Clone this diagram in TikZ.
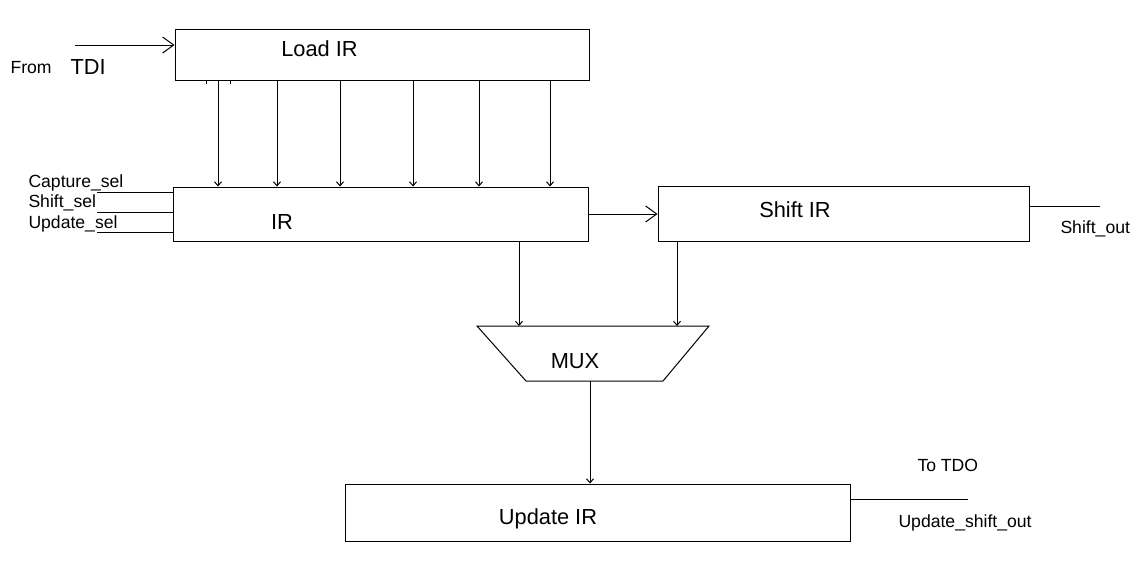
\documentclass[tikz,border=0pt]{standalone}
\usepackage{fontspec}
\setmainfont{Liberation Sans}
\usetikzlibrary{arrows.meta}
\begin{document}
\begin{tikzpicture}[x=1pt,y=-1pt,line width=1pt,
  box/.style={draw,line width=1pt,inner sep=0pt},
  big/.style={font=\fontsize{21.8}{24}\selectfont,inner sep=0pt},
  small/.style={font=\fontsize{17.6}{20}\selectfont,inner sep=0pt},
  arr/.style={-{Straight Barb[length=4pt,width=7pt]}},
  barr/.style={-{Straight Barb[length=11pt,width=16pt]}}]
\useasboundingbox (0,0) rectangle (1136,576);
% boxes
\node[box,minimum width=414pt,minimum height=51pt] (load) at (382,54.5) {};
\node[box,minimum width=415pt,minimum height=54pt] (ir) at (380.5,214) {};
\node[box,minimum width=371pt,minimum height=55pt] (sir) at (843.5,214) {};
\node[box,minimum width=505pt,minimum height=57pt] (uir) at (597.5,512.5) {};
% mux trapezoid
\coordinate (m1) at (477,326);
\coordinate (m2) at (709,326);
\coordinate (m3) at (663,381);
\coordinate (m4) at (526,381);
\draw (m1) -- (m2) -- (m3) -- (m4) -- cycle;
% labels
\node[big,anchor=base] (tload) at (319.5,56) {Load IR};
\node[big,anchor=base] (tir) at (282,229) {IR};
\node[big,anchor=base] (tsir) at (795,217) {Shift IR};
\node[big,anchor=base] (tmux) at (575,368) {MUX};
\node[big,anchor=base] (tuir) at (548,524) {Update IR};
\node[small,anchor=base west] (from) at (10,73) {From};
\node[big,anchor=base west] (tdi) at (70,74) {TDI};
\node[small,anchor=base west] (cap) at (28,187) {Capture\_sel};
\node[small,anchor=base west] (shs) at (28,207) {Shift\_sel};
\node[small,anchor=base west] (ups) at (28,228) {Update\_sel};
\node[small,anchor=base west] (sout) at (1060,233) {Shift\_out};
\node[small,anchor=base west] (tdo) at (917,471) {To TDO};
\node[small,anchor=base west] (usout) at (898,527) {Update\_shift\_out};
% TDI input
\coordinate (tdiin) at (75,45);
\draw[barr] (tdiin) -- (tdiin -| load.west);
% parallel load arrows
\foreach \i/\x in {1/218,2/277,3/340,4/413,5/479,6/550}{
  \coordinate (c\i) at (\x,0);
  \draw[arr] (load.south -| c\i) -- (ir.north -| c\i);
}
% small ticks under Load IR
\coordinate (t1) at (206,0);
\coordinate (t2) at (230,0);
\draw (load.south -| t1) -- ++(0,3);
\draw (load.south -| t2) -- ++(0,3);
% select lines
\coordinate (s1) at (97,192);
\coordinate (s2) at (97,212);
\coordinate (s3) at (97,232);
\draw (s1) -- (s1 -| ir.west);
\draw (s2) -- (s2 -| ir.west);
\draw (s3) -- (s3 -| ir.west);
% IR -> Shift IR
\coordinate (h) at (0,214);
\draw[barr] (h -| ir.east) -- (h -| sir.west);
% shift out
\coordinate (so) at (1100,206);
\draw (so -| sir.east) -- (so);
% to mux
\coordinate (ma) at (519,0);
\coordinate (mb) at (677,0);
\draw[arr] (ir.south -| ma) -- (m1 -| ma);
\draw[arr] (sir.south -| mb) -- (m2 -| mb);
% mux to update
\coordinate (mc) at (590,0);
\draw[arr] (m4 -| mc) -- (uir.north -| mc);
% update out
\coordinate (uo) at (968,499);
\draw (uo -| uir.east) -- (uo);
\end{tikzpicture}
\end{document}
